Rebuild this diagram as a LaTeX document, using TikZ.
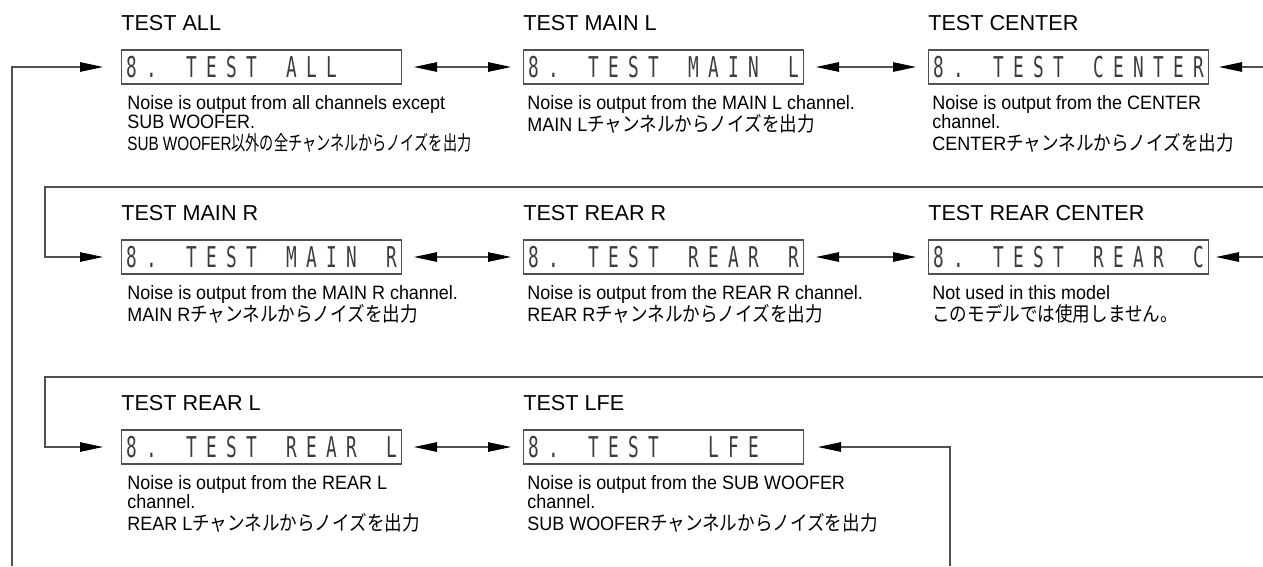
\documentclass[tikz,border=0pt]{standalone}
\usepackage{fontspec}
\setmainfont{Liberation Sans}
\newfontfamily\descfont[FakeStretch=0.93]{Liberation Sans}
\newfontfamily\descnarrow[FakeStretch=0.79]{Liberation Sans}
\newfontfamily\jpfont[FakeStretch=0.87]{Noto Sans CJK JP}
\newfontfamily\jpnarrow[FakeStretch=0.7]{Noto Sans CJK JP}
\newfontfamily\lcdfont[FakeStretch=0.62]{DejaVu Sans Mono}
\usetikzlibrary{positioning, arrows.meta}
\definecolor{lineGray}{RGB}{80,80,80}
\definecolor{lcdInk}{RGB}{60,60,60}

\newlength\lcdpitch
\setlength\lcdpitch{0.4cm}
\ExplSyntaxOn
\NewDocumentCommand\lcd{m}{\tl_map_inline:nn{#1}{\makebox[\lcdpitch]{##1}}}
\ExplSyntaxOff
\newcommand\descsetup{\descfont\fontsize{11}{11}\selectfont\lineskiplimit-20pt\relax}
% latin part, then japanese part
\newcommand\jpline[2]{#1{\jpfont\fontsize{11.5}{11}\selectfont #2}}
\newcommand\jpnline[2]{{\descnarrow #1}{\jpnarrow\fontsize{11.5}{11}\selectfont #2}}

\begin{document}
\begin{tikzpicture}[
    x=0.02cm, y=-0.02cm,
    ttl/.style={anchor=base west, inner sep=0pt, font=\fontsize{12.3}{14}\selectfont},
    lcdbox/.style={rectangle, draw=lineGray, line width=0.6pt, minimum width=5.6cm,
        minimum height=0.68cm, inner sep=0pt, anchor=west, text=lcdInk,
        font=\lcdfont\fontsize{16.3}{16.3}\selectfont},
    desc/.style={anchor=north west, align=left, inner sep=0pt, font=\descsetup},
    conn/.style={draw=lineGray, line width=0.6pt},
    tip/.tip={Triangle[length=0.46cm, width=0.19cm, color=black]},
    arr/.style={conn, -tip},
    dbl/.style={conn, tip-tip, shorten <=0.24cm, shorten >=0.24cm}
]
\useasboundingbox (0,0) rectangle (1263,566);

% row 1
\node[ttl] (tAll) at (121,30) {TEST ALL};
\node[ttl] (tMainL) at (523,30) {TEST MAIN L};
\node[ttl] (tCenter) at (928,30) {TEST CENTER};
\node[lcdbox] (dAll) at (121,67) {\lcd{8.~TEST~ALL~~~}};
\node[lcdbox] (dMainL) at (523,67) {\lcd{8.~TEST~MAIN~L}};
\node[lcdbox] (dCenter) at (928,67) {\lcd{8.~TEST~CENTER}};
\node[desc] (nAll) at (127,95) {Noise is output from all channels except\\SUB WOOFER.\\[1.5pt]
    \jpnline{SUB WOOFER}{以外の全チャンネルからノイズを出力}};
\node[desc] (nMainL) at (527,95) {Noise is output from the MAIN L channel.\\[1.5pt]
    \jpline{MAIN L}{チャンネルからノイズを出力}};
\node[desc] (nCenter) at (932,95) {Noise is output from the CENTER\\channel.\\[1.5pt]
    \jpline{CENTER}{チャンネルからノイズを出力}};

% row 2
\node[ttl] (tMainR) at (121,220) {TEST MAIN R};
\node[ttl] (tRearR) at (523,220) {TEST REAR R};
\node[ttl] (tRearC) at (928,220) {TEST REAR CENTER};
\node[lcdbox] (dMainR) at (121,257) {\lcd{8.~TEST~MAIN~R}};
\node[lcdbox] (dRearR) at (523,257) {\lcd{8.~TEST~REAR~R}};
\node[lcdbox] (dRearC) at (928,257) {\lcd{8.~TEST~REAR~C}};
\node[desc] (nMainR) at (127,285) {Noise is output from the MAIN R channel.\\[1.5pt]
    \jpline{MAIN R}{チャンネルからノイズを出力}};
\node[desc] (nRearR) at (527,285) {Noise is output from the REAR R channel.\\[1.5pt]
    \jpline{REAR R}{チャンネルからノイズを出力}};
\node[desc] (nRearC) at (932,285) {Not used in this model\\[1.5pt]
    \jpline{}{このモデルでは使用しません。}};

% row 3
\node[ttl] (tRearL) at (121,410) {TEST REAR L};
\node[ttl] (tLFE) at (523,410) {TEST LFE};
\node[lcdbox] (dRearL) at (121,447) {\lcd{8.~TEST~REAR~L}};
\node[lcdbox] (dLFE) at (523,447) {\lcd{8.~TEST~~LFE~~}};
\node[desc] (nRearL) at (127,475) {Noise is output from the REAR L\\channel.\\[1.5pt]
    \jpline{REAR L}{チャンネルからノイズを出力}};
\node[desc] (nLFE) at (527,475) {Noise is output from the SUB WOOFER\\channel.\\[1.5pt]
    \jpline{SUB WOOFER}{チャンネルからノイズを出力}};

% loop lines
\coordinate (loopBot) at (12,566);
\coordinate (edgeA) at (1263,67);
\coordinate (edgeB) at (1263,257);
\coordinate (sepA) at (1263,187);
\coordinate (sepAL) at (45,187);
\coordinate (sepB) at (1263,377);
\coordinate (sepBL) at (45,377);
\coordinate (lfeBot) at (950,566);

\draw[arr, shorten >=0.36cm] (loopBot) |- (dAll);
\draw[arr, shorten >=0.2cm] (edgeA) -- (dCenter);
\draw[arr, shorten >=0.36cm] (sepA) -- (sepAL) |- (dMainR);
\draw[arr, shorten >=0.14cm] (edgeB) -- (dRearC);
\draw[arr, shorten >=0.36cm] (sepB) -- (sepBL) |- (dRearL);
\draw[arr, shorten >=0.28cm] (lfeBot) |- (dLFE);

\foreach \a/\b in {dAll/dMainL, dMainL/dCenter, dMainR/dRearR, dRearR/dRearC, dRearL/dLFE}
    \draw[dbl] (\a) -- (\b);
\end{tikzpicture}
\end{document}
